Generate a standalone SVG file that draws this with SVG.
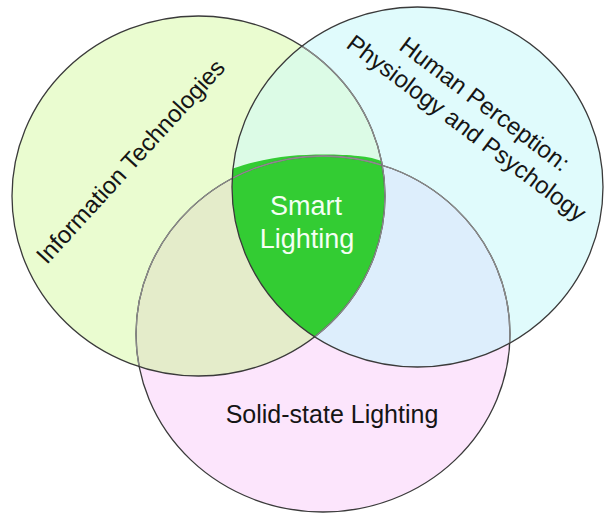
<svg xmlns="http://www.w3.org/2000/svg" width="605" height="513" viewBox="0 0 605 513">
  <style>
    .lbl { font-family: "Liberation Sans", Arial, sans-serif; fill: #151515; }
    .smart { font-family: "Liberation Sans", Arial, sans-serif; fill: #f4fff4; font-size: 27px; text-anchor: middle; }
    .outer { fill: none; stroke: #3a3a3a; stroke-width: 1.3; }
    .inner { fill: none; stroke: #8c8c8c; stroke-width: 1.3; }
  </style>
  <defs>
    <ellipse id="eL" cx="198.5" cy="196" rx="186.5" ry="180"/>
    <ellipse id="eR" cx="417.5" cy="187" rx="185.5" ry="180"/>
    <ellipse id="eB" cx="323" cy="334" rx="187" ry="178"/>
    <clipPath id="cL"><use href="#eL"/></clipPath>
    <clipPath id="cR"><use href="#eR"/></clipPath>
    <clipPath id="cB"><use href="#eB"/></clipPath>
  </defs>
  <rect width="605" height="513" fill="#ffffff"/>

  <!-- base fills -->
  <g id="solid-state-lighting">
    <use href="#eB" fill="#fce5fc"/>
  </g>
  <g id="information-technologies">
    <use href="#eL" fill="#eafcd0"/>
  </g>
  <g id="human-perception">
    <use href="#eR" fill="#e0fbfc"/>
  </g>

  <!-- overlaps -->
  <g id="overlaps">
    <g clip-path="url(#cL)"><use href="#eB" fill="#e4ecca"/></g>
    <g clip-path="url(#cR)"><use href="#eB" fill="#ddeefc"/></g>
    <g clip-path="url(#cL)"><use href="#eR" fill="#dcfbe6"/></g>
  </g>

  <!-- Smart Lighting (center) -->
  <g id="smart-lighting">
    <g clip-path="url(#cL)">
      <g clip-path="url(#cR)">
        <path d="M226,171 C245,164 268,158 290,156 C310,154 340,154 358,156 C370,157 382,160 392,166 L410,200 L410,360 L210,360 L210,180 Z" fill="#33cc33"/>
      </g>
    </g>
  </g>

  <!-- outlines -->
  <g id="outlines">
    <use href="#eB" class="outer"/>
    <g clip-path="url(#cL)"><use href="#eB" class="inner"/></g>
    <g clip-path="url(#cR)"><use href="#eB" class="inner"/></g>
    <use href="#eL" class="outer"/>
    <g clip-path="url(#cR)"><use href="#eL" class="inner"/></g>
    <use href="#eR" class="outer" stroke="#4a4a4a"/>
  </g>

  <g id="connectors"/>

  <!-- labels -->
  <g id="labels">
    <text class="lbl" font-size="24" text-anchor="middle" transform="translate(136.5,167) rotate(-47.6)">Information Technologies</text>
    <text class="lbl" font-size="24" text-anchor="middle" transform="translate(470.7,122.6) rotate(37)"><tspan x="0" y="-15">Human Perception:</tspan><tspan x="0" y="15">Physiology and Psychology</tspan></text>
    <text class="lbl" font-size="25" text-anchor="middle" x="332" y="423">Solid-state Lighting</text>
    <text class="smart" x="306" y="215">Smart</text>
    <text class="smart" x="307" y="248">Lighting</text>
  </g>
</svg>
